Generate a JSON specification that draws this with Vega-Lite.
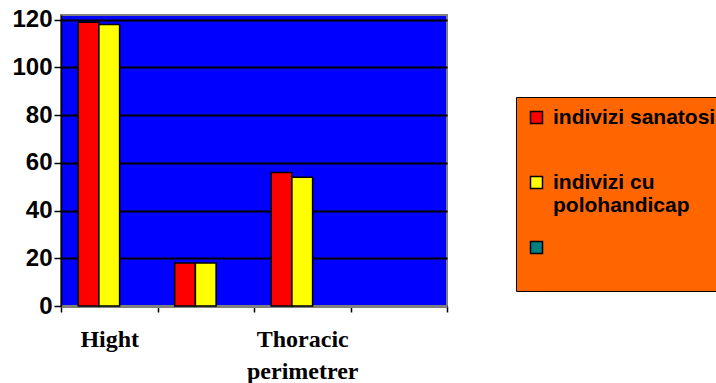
{
  "$schema": "https://vega.github.io/schema/vega-lite/v6.json",
  "width": 386,
  "height": 291,
  "autosize": {"type": "none"},
  "padding": {"left": 61, "top": 15, "right": 269, "bottom": 77},
  "background": "white",
  "data": {
    "values": [
      {"measure": "Hight", "group": "indivizi sanatosi", "value": 119},
      {"measure": "Hight", "group": "indivizi cu polohandicap", "value": 118},
      {"measure": "Category 2", "group": "indivizi sanatosi", "value": 18},
      {"measure": "Category 2", "group": "indivizi cu polohandicap", "value": 18},
      {"measure": "Thoracic perimetrer", "group": "indivizi sanatosi", "value": 56},
      {"measure": "Thoracic perimetrer", "group": "indivizi cu polohandicap", "value": 54}
    ]
  },
  "mark": {"type": "bar", "stroke": "black", "strokeWidth": 1.5},
  "encoding": {
    "x": {
      "field": "measure",
      "type": "nominal",
      "title": null,
      "scale": {"domain": ["Hight", "Category 2", "Thoracic perimetrer", "Category 4"], "paddingInner": 0, "paddingOuter": 0},
      "axis": {
        "tickBand": "extent",
        "labelAngle": 0,
        "labelFont": "Liberation Serif",
        "labelFontWeight": "bold",
        "labelFontSize": 24,
        "labelColor": "black",
        "labelLineHeight": 32,
        "labelPadding": 15,
        "labelExpr": "datum.value == 'Thoracic perimetrer' ? ['Thoracic', 'perimetrer'] : (datum.value == 'Hight' ? 'Hight' : '')",
        "tickColor": "black",
        "tickSize": 6,
        "tickWidth": 1.5,
        "domainColor": "#808080",
        "domainWidth": 3,
        "grid": false
      }
    },
    "xOffset": {
      "field": "group",
      "type": "nominal",
      "scale": {"domain": ["indivizi sanatosi", "indivizi cu polohandicap", "Series 3"], "paddingInner": 0, "paddingOuter": 0.83}
    },
    "y": {
      "field": "value",
      "type": "quantitative",
      "title": null,
      "scale": {"domain": [0, 122], "nice": false},
      "axis": {
        "values": [0, 20, 40, 60, 80, 100, 120],
        "labelFont": "Liberation Sans",
        "labelFontWeight": "bold",
        "labelFontSize": 24,
        "labelColor": "black",
        "labelPadding": 2,
        "tickColor": "black",
        "tickSize": 7,
        "tickWidth": 1.5,
        "domainColor": "black",
        "domainWidth": 1.5,
        "grid": true,
        "gridColor": "black",
        "gridWidth": 2
      }
    },
    "color": {
      "field": "group",
      "type": "nominal",
      "scale": {"domain": ["indivizi sanatosi", "indivizi cu polohandicap", "Series 3"], "range": ["#FF0000", "#FFFF00", "#008080"]},
      "legend": {
        "orient": "none",
        "legendX": 455,
        "legendY": 82,
        "title": null,
        "fillColor": "#FF6600",
        "strokeColor": "black",
        "padding": 10,
        "symbolType": "square",
        "symbolSize": 144,
        "symbolStrokeColor": "black",
        "symbolStrokeWidth": 1.5,
        "symbolOpacity": 1,
        "labelFont": "Liberation Sans",
        "labelFontWeight": "bold",
        "labelFontSize": 21,
        "labelColor": "black",
        "labelOffset": 6,
        "labelLimit": 600,
        "rowPadding": 20,
        "labelExpr": "datum.value == 'indivizi cu polohandicap' ? ['indivizi cu', 'polohandicap'] : (datum.value == 'Series 3' ? ['', ''] : [datum.value + '                    ', ''])"
      }
    }
  },
  "config": {
    "view": {"fill": "#0000FF", "stroke": "#808080", "strokeWidth": 2}
  }
}
